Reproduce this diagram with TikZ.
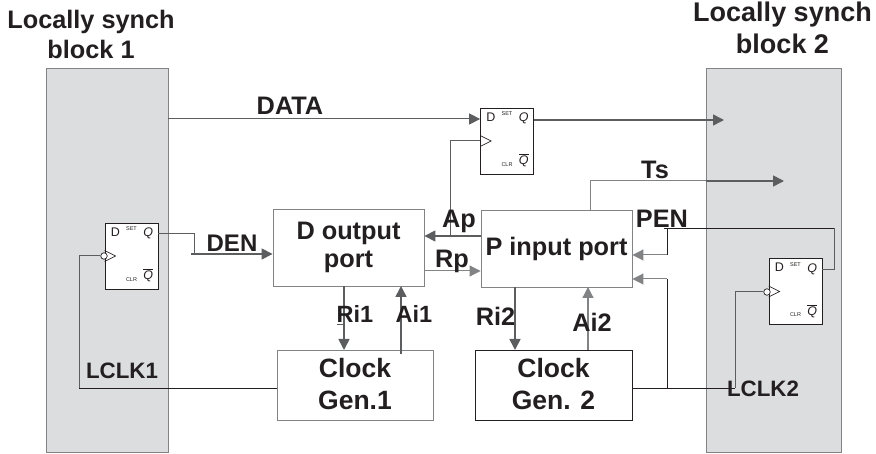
\documentclass[tikz,border=0pt]{standalone}
\usepackage{fontspec}
\setmainfont{Liberation Sans}
\usetikzlibrary{arrows.meta,positioning}
\definecolor{blockgray}{RGB}{220,221,223}
\definecolor{wiregray}{RGB}{92,93,95}
\definecolor{framegray}{RGB}{130,131,133}
\definecolor{inkblack}{RGB}{35,31,32}

\begin{document}
\begin{tikzpicture}[
    x=1pt,
    y=-1pt,
    font=\bfseries\fontsize{25.3}{28}\selectfont,
    text=inkblack,
    >={Triangle[length=11pt,width=11pt]},
    block/.style={
		rectangle,
		draw=framegray,
		line width=0.9pt,
		fill=blockgray,
		inner sep=0pt,
		minimum width=122pt,
		minimum height=384pt
	},
	unit/.style={
		rectangle,
		draw=framegray,
		line width=0.9pt,
		fill=white,
		inner sep=0pt,
		text centered,
		align=center
	},
	clockunit/.style={
		unit,
		font=\bfseries\fontsize{26.5}{28}\selectfont,
		text depth=3pt,
		minimum height=70pt
	},
	flop/.style={
		rectangle,
		draw=inkblack,
		line width=0.7pt,
		fill=white,
		inner sep=0pt,
		minimum width=53pt,
		minimum height=66pt
	},
	pin/.style={
		font=\fontsize{12.5}{13}\selectfont,
		inner sep=0pt
	},
	tiny/.style={
		font=\fontsize{5.5}{6}\selectfont,
		inner sep=0pt
	},
	wirename/.style={
		anchor=base,
		inner sep=0pt
	},
	smallname/.style={
		wirename,
		font=\bfseries\fontsize{23.5}{28}\selectfont
	},
	wire/.style={
		draw=wiregray,
		line width=1pt
	},
	light wire/.style={
		draw=framegray,
		line width=1pt
	},
	bold wire/.style={
		draw=wiregray,
		line width=1.6pt
	},
	black wire/.style={
		draw=inkblack,
		line width=0.8pt
	},
	bubble/.style={
		circle,
		draw=inkblack,
		line width=0.7pt,
		fill=white,
		inner sep=0pt,
		minimum size=6.5pt
	}
  ]

\useasboundingbox (0,0) rectangle (876,454);

% // The blocks
\node [block] (block1) at (107,260) {};
\node [block, minimum width=135pt] (block2) at (773.5,260) {};
\node [wirename] (title1) at (91,29) {Locally synch};
\node [wirename] (name1) at (91,59) {block 1};
\node [wirename, font=\bfseries\fontsize{27}{28}\selectfont] (title2) at (782.5,22) {Locally synch};
\node [wirename, font=\bfseries\fontsize{27}{28}\selectfont] (name2) at (782.5,54) {block 2};

% // The units
\node [unit, minimum width=151pt, minimum height=77pt] (doutport) at (348.5,247.5) {D output\\port};
\node [unit, minimum width=151pt, minimum height=77pt] (pinport) at (556.5,248.5) {P input port};
\node [clockunit, minimum width=156pt] (clock1) at (355,385) {Clock\\[4pt]Gen.1};
\node [clockunit, draw=inkblack, minimum width=157pt] (clock2) at (553.5,385) {Clock\\[4pt]Gen. 2};

% // The flip flops
\foreach \ffname/\x/\y in {ff1/131.5/256, ffm/507/141, ff2/795.5/291.5} {
  \node [flop] (\ffname) at (\x,\y) {};
  \node [pin, below right=5pt and 6pt of \ffname.north west] (\ffname d) {D};
  \node [pin, font=\fontsize{12.5}{13}\itshape\selectfont, below left=5pt and 5pt of \ffname.north east] (\ffname q) {Q};
  \node [tiny, below=4pt of \ffname.north] (\ffname set) {SET};
  \node [tiny, above=8pt of \ffname.south] (\ffname clr) {CLR};
  \node [pin, font=\fontsize{12.5}{13}\itshape\selectfont, above left=7pt and 5pt of \ffname.south east] (\ffname nq) {$\overline{\mbox{Q}}$};
  \draw [inkblack, line width=0.7pt] (\ffname.west) ++(0,-5.5) -- ++(11,5.5) -- ++(-11,5.5);
}
\node [bubble] (bubble1) at (104,256) {};
\node [bubble] (bubble2) at (767,292) {};

% // The wires
\draw [wire, ->] (block1.east |- 0,119) -- (ffm.west |- 0,119);
\draw [bold wire, ->] (ffm.east |- 0,120) -- (724,120);
\draw [wire] (ffm.west |- 0,141) -- (450,141) -- (450,236);
\draw [bold wire, ->] (pinport.west |- 0,236) -- (doutport.east |- 0,236);
\draw [light wire, ->] (doutport.east |- 0,271) -- (pinport.west |- 0,271);
\draw [wire] (ff1.east |- 0,234) -- (194,234) -- (194,254);
\draw [bold wire, ->] (191,254) -- (doutport.west |- 0,254);
\draw [light wire] (590,210) -- (590,181) -- (block2.west |- 0,181);
\draw [bold wire, ->] (block2.west |- 0,181) -- (784,181);

\draw [bold wire, ->] (344,286) -- (344,350);
\draw [wire] (337,325) -- (344,325);
\draw [bold wire, ->] (401,354) -- (401,286);
\draw [bold wire, ->] (515,287) -- (515,350);
\draw [light wire, line width=1.2pt, ->] (588,350) -- (588,287);

\draw [black wire] (clock1.west |- 0,388) -- (79,388);
\draw [wire] (79,388) -- (79,256) -- (bubble1.west);
\draw [black wire] (clock2.east |- 0,388) -- (735,388);
\draw [wire] (735,388) -- (735,292) -- (bubble2.west);
\draw [black wire] (667,388) -- (667,279);
\draw [light wire, ->] (667,279) -- (pinport.east |- 0,279);
\draw [wire] (ff2.east |- 0,270) -- (834,270) -- (834,228);
\draw [black wire] (834,228) -- (664,228);
\draw [black wire] (667,228) -- (667,255);
\draw [light wire, ->] (667,255) -- (pinport.east |- 0,255);

% // The wire names
\node [wirename] (data) at (290,115) {DATA};
\node [smallname, font=\bfseries\fontsize{24}{28}\selectfont] (den) at (232,252) {DEN};
\node [wirename] (ap) at (459,228) {Ap};
\node [wirename] (rp) at (452,268) {Rp};
\node [wirename] (ts) at (655,179) {Ts};
\node [wirename] (pen) at (662,228) {PEN};
\node [smallname] (ri1) at (355,323) {Ri1};
\node [smallname] (ai1) at (414,323) {Ai1};
\node [wirename] (ri2) at (495.5,326) {Ri2};
\node [wirename] (ai2) at (592,332) {Ai2};
\node [smallname, font=\bfseries\fontsize{22.3}{28}\selectfont] (lclk1) at (122,379) {LCLK1};
\node [smallname, font=\bfseries\fontsize{22.3}{28}\selectfont] (lclk2) at (763,397) {LCLK2};

\end{tikzpicture}
\end{document}
